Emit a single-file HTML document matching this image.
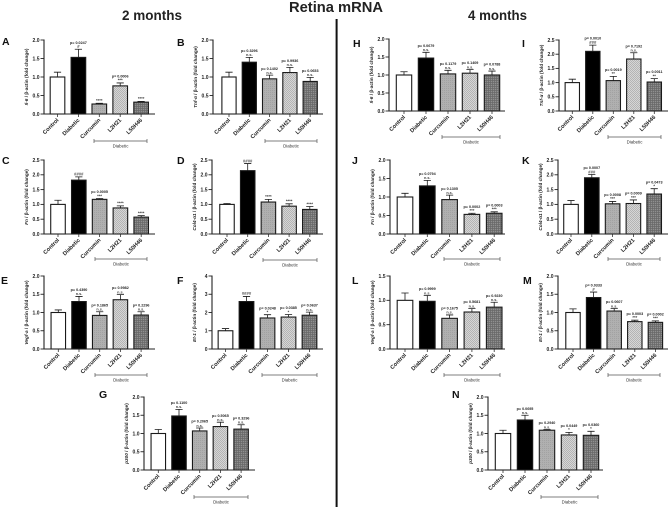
<!DOCTYPE html>
<html lang="en">
<head>
<meta charset="utf-8">
<title>Retina mRNA</title>
<style>
html,body{margin:0;padding:0;background:#fff;}
#figure{display:block;width:669px;height:507px;filter:blur(0.3px);font-family:"Liberation Sans",sans-serif;}
</style>
</head>
<body>
<svg id="figure" xmlns="http://www.w3.org/2000/svg" width="669" height="507" viewBox="0 0 669 507">
  <defs>
    <pattern id="fill-curcumin" width="2" height="2" patternUnits="userSpaceOnUse">
      <rect width="2" height="2" fill="#b0b0b0"/>
      <rect width="1" height="1" fill="#a2a2a2"/>
    </pattern>
    <pattern id="fill-l2h21" width="2" height="2" patternUnits="userSpaceOnUse">
      <rect width="2" height="2" fill="#d6d6d6"/>
      <rect width="1" height="1" fill="#b4b4b4"/>
      <rect x="1" y="1" width="1" height="1" fill="#b4b4b4"/>
    </pattern>
    <pattern id="fill-l50h46" width="2" height="2" patternUnits="userSpaceOnUse">
      <rect width="2" height="2" fill="#909090"/>
      <rect width="2" height="0.7" fill="#666666"/>
      <rect width="0.7" height="2" fill="#666666"/>
    </pattern>
  </defs>
  <text x="289" y="12" font-size="14.5" font-weight="bold" fill="#222" textLength="94" lengthAdjust="spacingAndGlyphs">Retina mRNA</text>
  <text x="122" y="20" font-size="14" font-weight="bold" fill="#222" textLength="60" lengthAdjust="spacingAndGlyphs">2 months</text>
  <text x="468" y="20" font-size="14" font-weight="bold" fill="#222" textLength="59" lengthAdjust="spacingAndGlyphs">4 months</text>
  <rect x="335.6" y="19" width="2" height="488" fill="#111"/>
  <g id="panels"></g>
</svg>
<script>
// ---- Data ----
const categories = ["Control", "Diabetic", "Curcumin", "L2H21", "L50H46"];
const groupLabel = "Diabetic";

const ticksA = [0, 0.5, 1, 1.5, 2];
const ticksB = [0, 0.5, 1, 1.5, 2];
const ticksC = [0, 0.5, 1, 1.5, 2, 2.5];
const ticksD = [0, 0.5, 1, 1.5, 2, 2.5];
const ticksE = [0, 0.5, 1, 1.5, 2];
const ticksF = [0, 1, 2, 3, 4];
const ticksG = [0, 0.5, 1, 1.5, 2];
const ticksH = [0, 0.5, 1, 1.5, 2];
const ticksI = [0, 0.5, 1, 1.5, 2, 2.5];
const ticksJ = [0, 0.5, 1, 1.5, 2];
const ticksK = [0, 0.5, 1, 1.5, 2, 2.5];
const ticksL = [0, 0.5, 1, 1.5];
const ticksM = [0, 0.5, 1, 1.5, 2];
const ticksN = [0, 0.5, 1, 1.5, 2];

const valuesA = [1.00, 1.53, 0.27, 0.76, 0.32];
const errorsA = [0.13, 0.22, 0.02, 0.08, 0.02];
const valuesB = [1.00, 1.40, 0.95, 1.12, 0.88];
const errorsB = [0.13, 0.13, 0.10, 0.14, 0.11];
const valuesC = [1.00, 1.82, 1.17, 0.88, 0.57];
const errorsC = [0.14, 0.11, 0.03, 0.07, 0.05];
const valuesD = [1.00, 2.14, 1.08, 0.94, 0.83];
const errorsD = [0.03, 0.24, 0.09, 0.08, 0.10];
const valuesE = [1.00, 1.30, 0.92, 1.35, 0.93];
const errorsE = [0.07, 0.14, 0.10, 0.14, 0.09];
const valuesF = [1.00, 2.60, 1.70, 1.75, 1.85];
const errorsF = [0.12, 0.28, 0.18, 0.14, 0.17];
const valuesG = [1.00, 1.48, 1.07, 1.19, 1.12];
const errorsG = [0.11, 0.18, 0.08, 0.12, 0.12];
const valuesH = [1.00, 1.47, 1.03, 1.05, 1.00];
const errorsH = [0.09, 0.16, 0.10, 0.10, 0.11];
const valuesI = [1.00, 2.10, 1.07, 1.83, 1.02];
const errorsI = [0.12, 0.22, 0.15, 0.22, 0.12];
const valuesJ = [1.00, 1.30, 0.93, 0.53, 0.56];
const errorsJ = [0.10, 0.15, 0.12, 0.03, 0.04];
const valuesK = [1.00, 1.90, 1.02, 1.03, 1.35];
const errorsK = [0.13, 0.11, 0.08, 0.12, 0.18];
const valuesL = [1.00, 0.98, 0.63, 0.76, 0.86];
const errorsL = [0.15, 0.12, 0.07, 0.07, 0.10];
const valuesM = [1.00, 1.41, 1.04, 0.75, 0.73];
const errorsM = [0.10, 0.15, 0.07, 0.04, 0.04];
const valuesN = [1.00, 1.37, 1.09, 0.96, 0.95];
const errorsN = [0.09, 0.13, 0.02, 0.07, 0.11];

const pvalsA = ["", "p= 0.0247", "", "p= 0.0006", ""];
const marksA = ["", "#", "****", "***", "****"];
const pvalsB = ["", "p= 0.3296", "p= 0.1402", "p= 0.9936", "p= 0.0653"];
const marksB = ["", "n.s.", "n.s.", "n.s.", "n.s."];
const pvalsC = ["", "", "p= 0.0005", "", ""];
const marksC = ["", "####", "***", "****", "****"];
const pvalsD = ["", "", "", "", ""];
const marksD = ["", "####", "****", "****", "****"];
const pvalsE = ["", "p= 0.4390", "p= 0.1865", "p= 0.9982", "p= 0.2296"];
const marksE = ["", "n.s.", "n.s.", "n.s.", "n.s."];
const pvalsF = ["", "", "p= 0.0248", "p= 0.0385", "p= 0.0637"];
const marksF = ["", "####", "*", "*", "n.s."];
const pvalsG = ["", "p= 0.1100", "p= 0.2065", "p= 0.5065", "p= 0.3296"];
const marksG = ["", "n.s.", "n.s.", "n.s.", "n.s."];
const pvalsH = ["", "p= 0.0679", "p= 0.1179", "p= 0.1409", "p= 0.0788"];
const marksH = ["", "n.s.", "n.s.", "n.s.", "n.s."];
const pvalsI = ["", "p= 0.0010", "p= 0.0019", "p= 0.7192", "p= 0.0011"];
const marksI = ["", "###", "**", "n.s.", "**"];
const pvalsJ = ["", "p= 0.0794", "p= 0.1305", "p= 0.0002", "p= 0.0003"];
const marksJ = ["", "n.s.", "n.s.", "***", "***"];
const pvalsK = ["", "p= 0.0007", "p= 0.0008", "p= 0.0009", "p= 0.0473"];
const marksK = ["", "###", "***", "***", "*"];
const pvalsL = ["", "p= 0.9999", "p= 0.1675", "p= 0.5681", "p= 0.9230"];
const marksL = ["", "n.s.", "n.s.", "n.s.", "n.s."];
const pvalsM = ["", "p= 0.0333", "p= 0.0607", "p= 0.0003", "p= 0.0002"];
const marksM = ["", "#", "n.s.", "***", "***"];
const pvalsN = ["", "p= 0.0695", "p= 0.2940", "p= 0.0449", "p= 0.0360"];
const marksN = ["", "n.s.", "n.s.", "*", "*"];

// ---- Layout of each panel (geometry only) ----
const panels = [
  {id:"A",gene:"Il-6",  letter:[2,45],   ax:44, y0:114,yt:40, c0:57.5,step:20.9,end:155,br:[94,147,141],  t:ticksA,v:valuesA,e:errorsA,p:pvalsA,m:marksA},
  {id:"B",gene:"Tnf-α", letter:[177,46], ax:213,y0:114,yt:40, c0:229, step:20.3,end:323,br:[265,317,141], t:ticksB,v:valuesB,e:errorsB,p:pvalsB,m:marksB},
  {id:"C",gene:"Fn",    letter:[2,164],  ax:44, y0:234,yt:160,c0:58,  step:20.8,end:155,br:[95,147,259],  t:ticksC,v:valuesC,e:errorsC,p:pvalsC,m:marksC},
  {id:"D",gene:"Col4-α1",letter:[177,164],ax:212,y0:234,yt:160,c0:227,step:20.7,end:323,br:[263,317,260], t:ticksD,v:valuesD,e:errorsD,p:pvalsD,m:marksD},
  {id:"E",gene:"Vegf-a",letter:[1,284],  ax:44, y0:349,yt:276,c0:58.3,step:20.7,end:155,br:[95,147,375],  t:ticksE,v:valuesE,e:errorsE,p:pvalsE,m:marksE},
  {id:"F",gene:"Et-1",  letter:[177,284],ax:212,y0:349,yt:276,c0:225.5,step:21,end:323,br:[262,317,375], t:ticksF,v:valuesF,e:errorsF,p:pvalsF,m:marksF},
  {id:"G",gene:"p300",  letter:[99,398], ax:144,y0:470,yt:397,c0:158.3,step:20.7,end:255,br:[194,248,497],t:ticksG,v:valuesG,e:errorsG,p:pvalsG,m:marksG},
  {id:"H",gene:"Il-6",  letter:[353,47], ax:389,y0:111,yt:39, c0:404, step:22,  end:505,br:[442,500,137], t:ticksH,v:valuesH,e:errorsH,p:pvalsH,m:marksH},
  {id:"I",gene:"Tnf-α", letter:[522,47], ax:559,y0:111,yt:40, c0:572.3,step:20.5,end:668,br:[608,661,137],t:ticksI,v:valuesI,e:errorsI,p:pvalsI,m:marksI},
  {id:"J",gene:"Fn",    letter:[352,164],ax:390,y0:234,yt:160,c0:405, step:22.3,end:505,br:[444,500,259],t:ticksJ,v:valuesJ,e:errorsJ,p:pvalsJ,m:marksJ},
  {id:"K",gene:"Col4-α1",letter:[522,164],ax:558,y0:234,yt:160,c0:571,step:20.8,end:668,br:[608,660,259],t:ticksK,v:valuesK,e:errorsK,p:pvalsK,m:marksK},
  {id:"L",gene:"Vegf-a",letter:[352,284],ax:390,y0:349,yt:276,c0:405, step:22.3,end:505,br:[444,500,375],t:ticksL,v:valuesL,e:errorsL,p:pvalsL,m:marksL},
  {id:"M",gene:"Et-1",  letter:[523,284],ax:558,y0:349,yt:276,c0:573, step:20.6,end:668,br:[608,660,375],t:ticksM,v:valuesM,e:errorsM,p:pvalsM,m:marksM},
  {id:"N",gene:"p300",  letter:[452,398],ax:488,y0:470,yt:397,c0:503, step:22,  end:603,br:[541,598,497],t:ticksN,v:valuesN,e:errorsN,p:pvalsN,m:marksN}
];
const barFills = ["#ffffff", "#000000", "url(#fill-curcumin)", "url(#fill-l2h21)", "url(#fill-l50h46)"];

const NS = "http://www.w3.org/2000/svg";
function make(parent, tag, attrs, text) {
  const el = document.createElementNS(NS, tag);
  for (const k in attrs) el.setAttribute(k, attrs[k]);
  if (text !== undefined) el.textContent = text;
  parent.appendChild(el);
  return el;
}
function yScaleFor(p) {
  const max = p.t[p.t.length - 1];
  return function (v) { return p.y0 - (v / max) * (p.y0 - p.yt); };
}
function xScaleFor(p) {
  return function (i) { return p.c0 + i * p.step; };
}
function slug(s) { return s.toLowerCase().replace(/[^a-z0-9]+/g, "-"); }

const root = document.getElementById("panels");

panels.forEach(function (p) {
  const y = yScaleFor(p);
  const x = xScaleFor(p);
  const decimals = p.t[1] === 1 ? 0 : 1;
  const barW = p.step * 0.7;

  const g = make(root, "g", {});
  
  

  const letter = make(g, "text", {x: p.letter[0], y: p.letter[1], "font-size": 10.5, "font-weight": "bold", fill: "#111"}, p.id);
  
  

  // bars + error bars
  p.v.forEach(function (val, i) {
    const cx = x(i);
    const top = y(val);
    const bar = make(g, "rect", {x: cx - barW / 2, y: top, width: barW, height: p.y0 - top, fill: barFills[i], stroke: "#1a1a1a", "stroke-width": 1.1});
    
    

    const capY = y(val + p.e[i]);
    const err = make(g, "path", {d: "M" + cx + " " + top + "V" + capY + "M" + (cx - 3.6) + " " + capY + "H" + (cx + 3.6), fill: "none", stroke: "#1a1a1a", "stroke-width": 0.8});
    
    

    if (p.m[i]) {
      const mark = make(g, "text", {x: cx, y: capY - 1.2, "text-anchor": "middle", "font-size": p.m[i] === "n.s." ? 3.8 : 4.2, "font-weight": "bold", fill: "#444"}, p.m[i]);
      
      
    }
    if (p.p[i]) {
      const pv = make(g, "text", {x: cx, y: capY - 5.4, "text-anchor": "middle", "font-size": 3.7, "font-weight": "bold", fill: "#222"}, p.p[i]);
      
      
    }

    const tick = make(g, "line", {x1: cx, x2: cx, y1: p.y0, y2: p.y0 + 3, stroke: "#333", "stroke-width": 0.8});
    
    

    const lx = cx + 1.5, ly = p.y0 + 6.5;
    const cat = make(g, "text", {x: lx, y: ly, "text-anchor": "end", "font-size": 5.6, "font-weight": "bold", fill: "#222", transform: "rotate(-45 " + lx + " " + ly + ")"}, categories[i]);
    
    
  });

  // axes
  const yAxis = make(g, "line", {x1: p.ax, x2: p.ax, y1: p.yt - 0.5, y2: p.y0 + 0.5, stroke: "#222", "stroke-width": 1.1});
  
  
  const xAxis = make(g, "line", {x1: p.ax, x2: p.end, y1: p.y0, y2: p.y0, stroke: "#222", "stroke-width": 1.1});
  
  

  p.t.forEach(function (t) {
    const ty = y(t);
    const tick = make(g, "line", {x1: p.ax - 3.5, x2: p.ax, y1: ty, y2: ty, stroke: "#222", "stroke-width": 0.9});
    
    
    const lab = make(g, "text", {x: p.ax - 4.5, y: ty + 1.8, "text-anchor": "end", "font-size": 5, "font-weight": "bold", fill: "#222"}, t.toFixed(decimals));
    
    
  });

  // y axis title
  const tx = p.ax - 16, ty = (p.yt + p.y0) / 2;
  const title = make(g, "text", {x: tx, y: ty, "text-anchor": "middle", "font-size": 4.7, "font-weight": "bold", fill: "#222", transform: "rotate(-90 " + tx + " " + ty + ")"});
  
  
  make(title, "tspan", {"font-style": "italic"}, p.gene);
  make(title, "tspan", {}, " / β-actin (fold change)");

  // treatment bracket
  const bx1 = p.br[0], bx2 = p.br[1], by = p.br[2];
  const bracket = make(g, "path", {d: "M" + bx1 + " " + (by - 2) + "v4M" + bx1 + " " + by + "H" + bx2 + "M" + bx2 + " " + (by - 2) + "v4", fill: "none", stroke: "#555", "stroke-width": 0.7});
  
  
  const gl = make(g, "text", {x: (bx1 + bx2) / 2, y: by + 6.3, "text-anchor": "middle", "font-size": 4.4, fill: "#333"}, groupLabel);
  
  
});
</script>
</body>
</html>
